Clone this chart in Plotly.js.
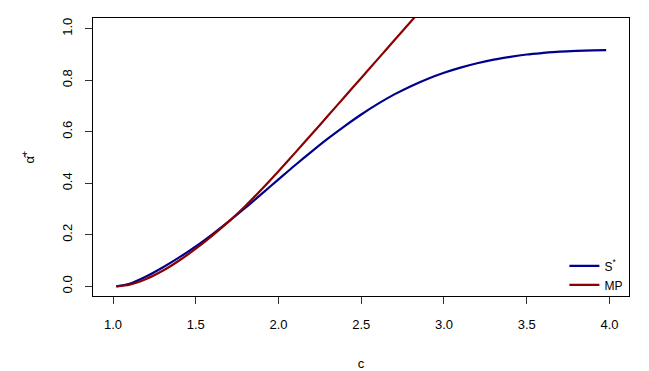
<!DOCTYPE html>
<html>
<head>
<meta charset="utf-8">
<script src="https://cdn.plot.ly/plotly-3.0.1.min.js"></script>
<style>html,body{margin:0;padding:0;background:#fff}#chart{width:649px;height:371px}</style>
</head>
<body>
<div id="chart"></div>
<script>
// S* curve
const cS = [1.02, 1.1, 1.2, 1.3, 1.4, 1.5, 1.6, 1.7, 1.8, 1.9, 2.0, 2.1, 2.2, 2.3, 2.4, 2.5, 2.6, 2.7, 2.8, 2.9, 3.0, 3.1, 3.2, 3.3, 3.4, 3.5, 3.6, 3.7, 3.8, 3.9, 3.98];
const vS = [0.0, 0.010, 0.038, 0.073, 0.112, 0.155, 0.202, 0.252, 0.305, 0.36, 0.415, 0.47, 0.523, 0.574, 0.622, 0.667, 0.708, 0.745, 0.777, 0.805, 0.829, 0.849, 0.866, 0.88, 0.891, 0.9, 0.906, 0.911, 0.914, 0.916, 0.917];
// MP curve
const cMP = [1.02, 1.1, 1.2, 1.3, 1.4, 1.5, 1.6, 1.7, 1.8, 1.9, 2.0, 2.1, 2.2, 2.3, 2.4, 2.5, 2.6, 2.7, 2.8, 2.85];
const vMP = [0.0, 0.006, 0.028, 0.06, 0.1, 0.146, 0.197, 0.252, 0.312, 0.378, 0.447, 0.518, 0.59, 0.663, 0.736, 0.809, 0.882, 0.955, 1.028, 1.064];
const xTicks = [1.0, 1.5, 2.0, 2.5, 3.0, 3.5, 4.0];
const yTicks = [0.0, 0.2, 0.4, 0.6, 0.8, 1.0];

const fam = 'Liberation Sans, Arial, sans-serif';
const traces = [
  {x: cS, y: vS, mode: 'lines', name: 'S<sup>*</sup>', line: {color: '#00008B', width: 2.2, shape: 'spline', smoothing: 0.8}},
  {x: cMP, y: vMP, mode: 'lines', name: 'MP', line: {color: '#8B0000', width: 2.2, shape: 'spline', smoothing: 0.8}}
];
const layout = {
  width: 649, height: 371,
  margin: {l: 93, r: 20, t: 18, b: 75},
  paper_bgcolor: '#fff', plot_bgcolor: '#fff',
  font: {family: fam, size: 13, color: '#000'},
  showlegend: true,
  legend: {x: 0.997, y: -0.012, xanchor: 'right', yanchor: 'bottom', bgcolor: 'rgba(0,0,0,0)',
           font: {family: fam, size: 12, color: '#000'}, tracegroupgap: 0, itemwidth: 30},
  xaxis: {
    range: [0.879, 4.118], tickvals: xTicks, ticktext: xTicks.map(v => v.toFixed(1)),
    ticks: 'outside', ticklen: 7, tickwidth: 1, tickcolor: '#333', ticklabelstandoff: 9,
    showgrid: false, zeroline: false, showline: true, linecolor: '#000', linewidth: 1, mirror: true,
    tickfont: {family: fam, size: 13, color: '#000'},
    title: {text: 'c', font: {family: fam, size: 13, color: '#000'}, standoff: 28}
  },
  yaxis: {
    range: [-0.0377, 1.0416], tickvals: yTicks, ticktext: yTicks.map(v => v.toFixed(1)),
    ticks: 'outside', ticklen: 7, tickwidth: 1, tickcolor: '#333', tickangle: -90, ticklabelstandoff: 8,
    showgrid: false, zeroline: false, showline: true, linecolor: '#000', linewidth: 1, mirror: true,
    tickfont: {family: fam, size: 13, color: '#000'},
    title: {text: 'α̂<sup>+</sup>', font: {family: fam, size: 13, color: '#000'}, standoff: 22}
  }
};
Plotly.newPlot('chart', traces, layout, {staticPlot: true, displayModeBar: false});
</script>
</body>
</html>
